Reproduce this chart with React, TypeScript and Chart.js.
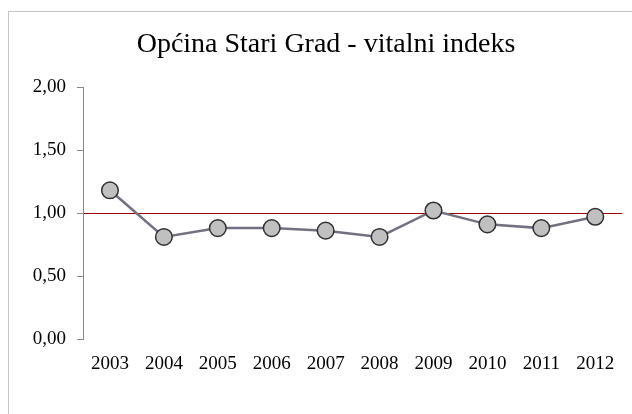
import React, { useEffect, useRef } from "react";
import { Chart, registerables } from "chart.js";

Chart.register(...registerables);

const titleText = "Općina Stari Grad - vitalni indeks";
const years = ["2003", "2004", "2005", "2006", "2007", "2008", "2009", "2010", "2011", "2012"];
const vitalIndex = [1.18, 0.81, 0.88, 0.88, 0.86, 0.81, 1.02, 0.91, 0.88, 0.97];
const yMin = 0;
const yMax = 2;
const yStep = 0.5;
const referenceValue = 1;

const FONT = '"Liberation Serif", "Times New Roman", serif';

export default function App() {
  const ref = useRef<HTMLCanvasElement | null>(null);

  useEffect(() => {
    if (!ref.current) return;
    const chart = new Chart(ref.current, {
      type: "line",
      data: {
        labels: years,
        datasets: [
          {
            data: vitalIndex,
            borderColor: "#717182",
            borderWidth: 2.5,
            pointRadius: 8.3,
            pointBackgroundColor: "#c0c0c0",
            pointBorderColor: "#303030",
            pointBorderWidth: 1.5,
            tension: 0,
          },
        ],
      },
      options: {
        responsive: false,
        animation: false,
        layout: { padding: { left: 24, right: 4, top: 0, bottom: 0 } },
        plugins: {
          legend: { display: false },
          tooltip: { enabled: false },
          title: {
            display: true,
            text: titleText,
            color: "#000",
            font: { family: FONT, size: 28, weight: "normal", lineHeight: 1.2 },
            padding: { top: 27.5, bottom: 25.9 },
          },
        },
        scales: {
          x: {
            type: "category",
            offset: true,
            grid: { display: false, drawTicks: false },
            border: { display: false },
            ticks: {
              color: "#000",
              font: { family: FONT, size: 19 },
              padding: 14,
              maxRotation: 0,
              autoSkip: false,
            },
            afterFit: (scale: any) => {
              scale.height = 75;
            },
          },
          y: {
            min: yMin,
            max: yMax,
            grid: {
              display: true,
              drawOnChartArea: true,
              drawTicks: true,
              tickLength: 6,
              tickColor: "#888",
              lineWidth: 1,
              color: (ctx: any) =>
                ctx.tick && ctx.tick.value === referenceValue ? "#a00000" : "rgba(0,0,0,0)",
            },
            border: { display: true, color: "#888", width: 1 },
            ticks: {
              stepSize: yStep,
              color: "#000",
              font: { family: FONT, size: 19 },
              padding: 11,
              callback: (v: any) => Number(v).toFixed(2).replace(".", ","),
            },
            afterFit: (scale: any) => {
              scale.width = 59;
            },
          },
        },
      },
    });
    return () => chart.destroy();
  }, []);

  return (
    <div
      style={{
        position: "fixed",
        left: 0,
        top: 0,
        width: 632,
        height: 414,
        overflow: "hidden",
        background: "#fff",
      }}
    >
      <div
        style={{
          position: "absolute",
          left: 8,
          top: 11,
          width: 640,
          height: 420,
          border: "1px solid #c4c4c4",
          boxSizing: "border-box",
        }}
      />
      <canvas
        ref={ref}
        width={632}
        height={414}
        style={{ position: "absolute", left: 0, top: 0, width: 632, height: 414 }}
      />
    </div>
  );
}
